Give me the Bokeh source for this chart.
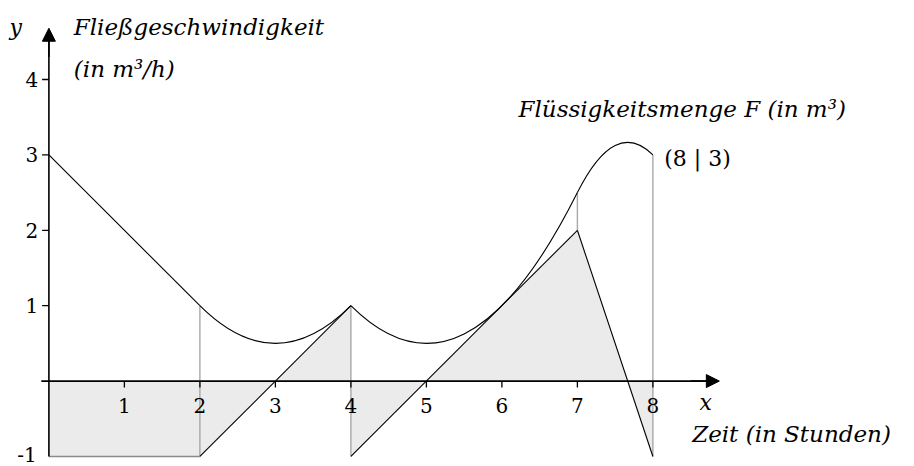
from bokeh.plotting import figure
from bokeh.models import Range1d, Arrow, NormalHead
from bokeh.core.properties import value
from bokeh.embed import file_html
from bokeh.resources import INLINE

# --- data -------------------------------------------------------------
# flow rate f (piecewise linear, jumps at x=4)
rate_x = [0, 2, 4, 4, 7, 8]
rate_y = [-1, -1, 1, -1, 2, -1]
# quantity F: knots and quadratic Bezier control points
F_x = [0, 2, 4, 7, 8]
F_y = [3, 1, 1, 2.5, 3]
ctrl_x = [3, 5.5, 7.5]
ctrl_y = [0, -0.5, 3.5]
# gray guide lines
guide_x = [2, 4, 7, 8]
guide_y0 = [-1, -1, 2, -1]
guide_y1 = [1, 1, 2.5, 3]
x_ticks = [1, 2, 3, 4, 5, 6, 7, 8]
y_ticks = [1, 2, 3, 4]
point_label = "(8 | 3)"

SERIF = value("DejaVu Serif")

p = figure(width=914, height=466, output_backend="svg", toolbar_location=None,
           x_range=Range1d(-0.641, 11.465), y_range=Range1d(-1.133, 5.048),
           min_border=0, outline_line_color=None)
p.axis.visible = False
p.grid.visible = False

# shaded area under f
px = [0] + rate_x + [8]
py = [0] + rate_y + [0]
p.patch(px, py, fill_color="#ebebeb", line_color=None)

# guide lines
p.segment(guide_x, guide_y0, guide_x, guide_y1, line_color="#a8a8a8", line_width=1.4)

# f: gray bottom part, then black
p.line(rate_x[0:2], rate_y[0:2], line_color="#8a8a8a", line_width=1.6)
p.segment([rate_x[1], rate_x[3], rate_x[4]], [rate_y[1], rate_y[3], rate_y[4]],
          [rate_x[2], rate_x[4], rate_x[5]], [rate_y[2], rate_y[4], rate_y[5]],
          line_color="black", line_width=1.1)

# F
p.line(F_x[0:2], F_y[0:2], line_color="black", line_width=1.1)
p.quadratic(x0=F_x[1:4], y0=F_y[1:4], x1=F_x[2:5], y1=F_y[2:5],
            cx=ctrl_x, cy=ctrl_y, line_color="black", line_width=1.1)

# axes
p.segment([-0.1], [0], [8.75], [0], line_color="black", line_width=1.6)
p.segment([0], [-1], [0], [4.55], line_color="black", line_width=1.6)
p.add_layout(Arrow(end=NormalHead(size=13, fill_color="black", line_color="black"),
                   x_start=8.5, y_start=0, x_end=8.88, y_end=0,
                   line_color="black", line_width=1.6))
p.add_layout(Arrow(end=NormalHead(size=13, fill_color="black", line_color="black"),
                   x_start=0, y_start=4.3, x_end=0, y_end=4.68,
                   line_color="black", line_width=1.6))

# ticks
p.segment(x_ticks, [0] * len(x_ticks), x_ticks, [-0.085] * len(x_ticks),
          line_color="black", line_width=1.3)
p.segment([-0.09] * len(y_ticks), y_ticks, [0] * len(y_ticks), y_ticks,
          line_color="black", line_width=1.3)

# tick labels
p.text(x_ticks, [-0.33] * len(x_ticks), text=[str(t) for t in x_ticks],
       text_font=SERIF, text_font_size="20px", text_align="center",
       text_baseline="middle", text_color="black")
p.text([-0.14] * len(y_ticks), y_ticks, text=[str(t) for t in y_ticks],
       text_font=SERIF, text_font_size="20px", text_align="right",
       text_baseline="middle", text_color="black")
p.text([-0.16], [-0.975], text=["-1"], text_font=SERIF, text_font_size="20px",
       text_align="right", text_baseline="middle", text_color="black")

# labels
def label(x, y, s, align="left", style="italic", size="23px"):
    p.text([x], [y], text=[s], text_font=SERIF, text_font_size=size,
           text_font_style=style, text_align=align, text_baseline="middle",
           text_color="black")

label(-0.44, 4.69, "y", align="center", size="22px")
label(0.33, 4.69, "Fließgeschwindigkeit")
label(0.33, 4.14, "(in m³/h)")
label(6.22, 3.615, "Flüssigkeitsmenge F (in m³)")
label(8.15, 2.95, point_label, style="normal", size="22px")
label(8.70, -0.28, "x", align="center", size="22px")
label(8.52, -0.70, "Zeit (in Stunden)")

open("out.html", "w").write(file_html(p, INLINE))
